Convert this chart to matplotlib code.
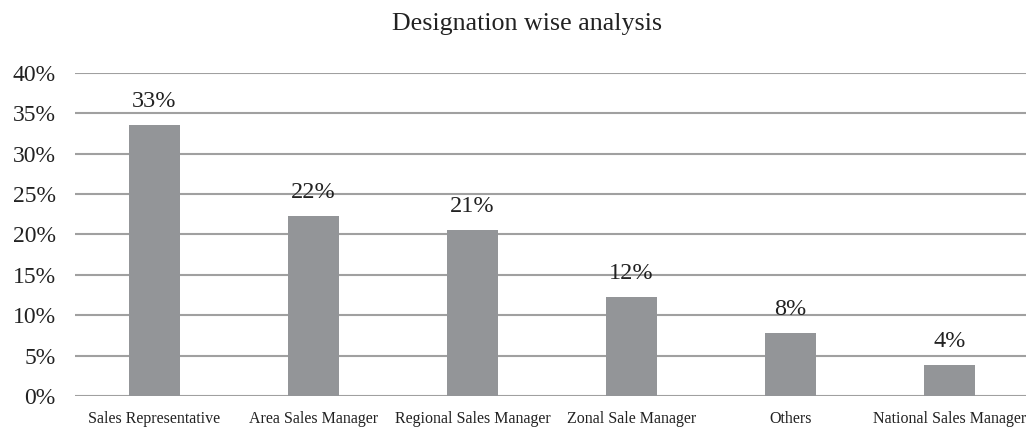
import matplotlib.pyplot as plt
from matplotlib.ticker import FuncFormatter

# data
designations = ['Sales Representative', 'Area Sales Manager', 'Regional Sales Manager',
                'Zonal Sale Manager', 'Others', 'National Sales Manager']
share = [33.5, 22.3, 20.5, 12.3, 7.8, 3.8]
share_labels = ['33%', '22%', '21%', '12%', '8%', '4%']
y_ticks = [0, 5, 10, 15, 20, 25, 30, 35, 40]

plt.rcParams['font.family'] = ['Liberation Serif', 'DejaVu Serif']

fig = plt.figure(figsize=(10.26, 4.30), dpi=100)
ax = fig.add_axes([0.0731, 0.079, 0.9299, 0.752])

x = range(len(designations))
ax.bar(x, share, width=0.32, color='#939598', zorder=3)

for i, v in enumerate(share):
    ax.text(i, v + 1.6, share_labels[i], ha='center', va='bottom', fontsize=17.5, color='#222222', zorder=4)

ax.set_xlim(-0.5, len(designations) - 0.5)
ax.set_ylim(0, 40)
ax.set_yticks(y_ticks)
ax.yaxis.set_major_formatter(FuncFormatter(lambda v, p: f'{v:.0f}%'))
ax.set_xticks(list(x))
ax.set_xticklabels(designations, fontsize=11.5)
ax.tick_params(axis='y', labelsize=17, length=0, pad=14, colors='#222222')
ax.tick_params(axis='x', length=0, pad=11, colors='#222222')
ax.yaxis.grid(True, color='#a0a0a0', linewidth=1.5, zorder=0)
for s in ax.spines.values():
    s.set_visible(False)

fig.text(0.514, 0.930, 'Designation wise analysis', ha='center', va='baseline', fontsize=18.7, color='#222222')

fig.savefig('out.png', dpi=100)
